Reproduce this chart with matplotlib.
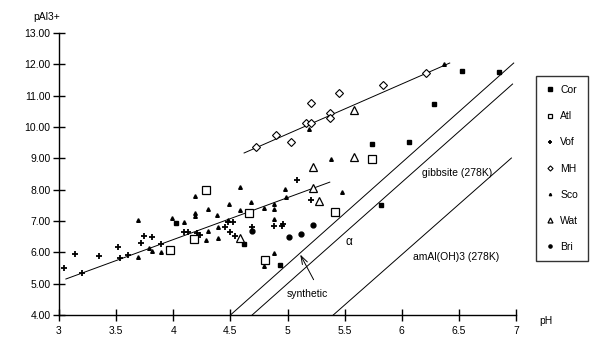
import matplotlib
matplotlib.use("Agg")
import matplotlib.pyplot as plt

plt.rcParams['font.family'] = ['Liberation Sans', 'DejaVu Sans']

# ---- data ----
cor_x = [4.02, 4.62, 4.93, 5.74, 5.82, 6.06, 6.28, 6.53, 6.85]
cor_y = [6.94, 6.27, 5.59, 9.46, 7.51, 9.52, 10.73, 11.79, 11.76]

atl_x = [3.97, 4.18, 4.29, 4.66, 4.80, 5.42, 5.74]
atl_y = [6.07, 6.42, 7.99, 7.25, 5.75, 7.29, 8.98]

vof_x = [3.04, 3.14, 3.20, 3.35, 3.52, 3.53, 3.60, 3.72, 3.74, 3.81, 3.89, 4.09, 4.13,
         4.21, 4.23, 4.45, 4.48, 4.52, 4.50, 4.54, 4.69, 4.88, 4.95, 4.96, 5.08, 5.21]
vof_y = [5.50, 5.95, 5.34, 5.88, 6.17, 5.82, 5.91, 6.30, 6.52, 6.49, 6.27, 6.65, 6.65,
         6.62, 6.55, 6.81, 6.97, 6.97, 6.65, 6.52, 6.81, 6.84, 6.84, 6.90, 8.31, 7.67]

mh_x = [4.72, 4.90, 5.03, 5.16, 5.21, 5.21, 5.37, 5.37, 5.45, 5.84, 6.21]
mh_y = [9.36, 9.74, 9.52, 10.13, 10.13, 10.77, 10.45, 10.29, 11.08, 11.34, 11.72]

sco_x = [3.69, 3.69, 3.79, 3.81, 3.89, 3.99, 4.09, 4.19, 4.19, 4.19, 4.29, 4.30, 4.30,
         4.38, 4.39, 4.39, 4.48, 4.49, 4.58, 4.58, 4.68, 4.79, 4.79, 4.88, 4.88, 4.88,
         4.88, 4.98, 4.99, 5.19, 5.38, 5.48, 6.37]
sco_y = [7.03, 5.85, 6.14, 6.04, 6.01, 7.10, 6.97, 7.80, 7.25, 7.16, 6.39, 7.38, 6.68,
         7.19, 6.81, 6.46, 7.03, 7.54, 8.08, 7.35, 7.61, 7.41, 5.56, 7.54, 7.38, 7.06,
         5.98, 8.02, 7.77, 9.94, 8.98, 7.93, 12.01]

wat_x = [4.58, 5.22, 5.22, 5.28, 5.58, 5.58]
wat_y = [6.46, 8.05, 8.72, 7.64, 9.04, 10.54]

bri_x = [4.69, 5.01, 5.12, 5.22]
bri_y = [6.68, 6.49, 6.58, 6.87]

# fitted trend lines
fit_low_x = [3.06, 5.37]
fit_low_y = [5.15, 8.24]
fit_mh_x = [4.62, 6.42]
fit_mh_y = [9.17, 12.04]

# solubility lines
gibb1_x = [4.50, 6.98]
gibb1_y = [4.00, 12.04]
gibb2_x = [4.69, 6.97]
gibb2_y = [4.00, 11.37]
amal_x = [5.40, 6.96]
amal_y = [4.00, 9.01]

x_ticks = [3, 3.5, 4, 4.5, 5, 5.5, 6, 6.5, 7]
x_tick_labels = ['3', '3.5', '4', '4.5', '5', '5.5', '6', '6.5', '7']
y_ticks = [4, 5, 6, 7, 8, 9, 10, 11, 12, 13]

FS = 7.5

fig = plt.figure(figsize=(6.04, 3.54), dpi=100)
ax = fig.add_axes([0.0977, 0.110, 0.7566, 0.797])

lw = 0.7
for xs, ys in [(fit_low_x, fit_low_y), (fit_mh_x, fit_mh_y),
               (gibb1_x, gibb1_y), (gibb2_x, gibb2_y), (amal_x, amal_y)]:
    ax.plot(xs, ys, color='black', lw=lw)

h_cor, = ax.plot(cor_x, cor_y, 's', color='black', ms=3.5, ls='none', label='Cor')
h_atl, = ax.plot(atl_x, atl_y, 's', mfc='white', mec='black', mew=0.9, ms=5.5, ls='none', label='Atl')
h_vof, = ax.plot(vof_x, vof_y, '+', color='black', mew=1.3, ms=4.5, ls='none', label='Vof')
h_mh, = ax.plot(mh_x, mh_y, 'D', mfc='white', mec='black', mew=0.8, ms=4, ls='none', label='MH')
h_sco, = ax.plot(sco_x, sco_y, '^', color='black', ms=2.6, ls='none', label='Sco')
h_wat, = ax.plot(wat_x, wat_y, '^', mfc='white', mec='black', mew=0.9, ms=5.5, ls='none', label='Wat')
h_bri, = ax.plot(bri_x, bri_y, 'o', color='black', ms=3.5, ls='none', label='Bri')

ax.set_xlim(3, 7)
ax.set_ylim(4, 13)
ax.set_xticks(x_ticks)
ax.set_xticklabels(x_tick_labels)
ax.set_yticks(y_ticks)
ax.set_yticklabels(['%.2f' % v for v in y_ticks])
for s in ['top', 'right']:
    ax.spines[s].set_visible(False)
for s in ['left', 'bottom']:
    ax.spines[s].set_linewidth(1.0)
ax.tick_params(direction='inout', length=8, width=1.0, labelsize=FS, pad=2)
ax.tick_params(axis='x', pad=4)

# annotations
ax.text(5.54, 6.33, 'α', fontsize=FS + 1, ha='center', va='center')
ax.text(6.18, 8.53, 'gibbsite (278K)', fontsize=FS, ha='left', va='center')
ax.text(6.10, 5.85, 'amAl(OH)3 (278K)', fontsize=FS, ha='left', va='center')
ax.text(5.17, 4.67, 'synthetic', fontsize=FS, ha='center', va='center')
ax.annotate('', xy=(5.10, 6.01), xytext=(5.24, 5.05),
            arrowprops=dict(arrowstyle='->,head_length=0.6,head_width=0.2', lw=0.7, color='black'))

fig.text(47 / 604, 1 - 17 / 354, 'pAl3+', fontsize=FS, ha='center', va='center')
fig.text(546 / 604, 1 - 321 / 354, 'pH', fontsize=FS, ha='center', va='center')

leg = fig.legend(handles=[h_cor, h_atl, h_vof, h_mh, h_sco, h_wat, h_bri],
                 loc='center', bbox_to_anchor=(562 / 604, 1 - 168.5 / 354),
                 fontsize=FS, frameon=True, fancybox=False, labelspacing=1.55,
                 handlelength=0.8, handletextpad=0.6, borderpad=0.9, borderaxespad=0,
                 markerscale=0.65)
leg.get_frame().set_edgecolor('black')
leg.get_frame().set_linewidth(1.0)

fig.savefig('out.png', dpi=100)
